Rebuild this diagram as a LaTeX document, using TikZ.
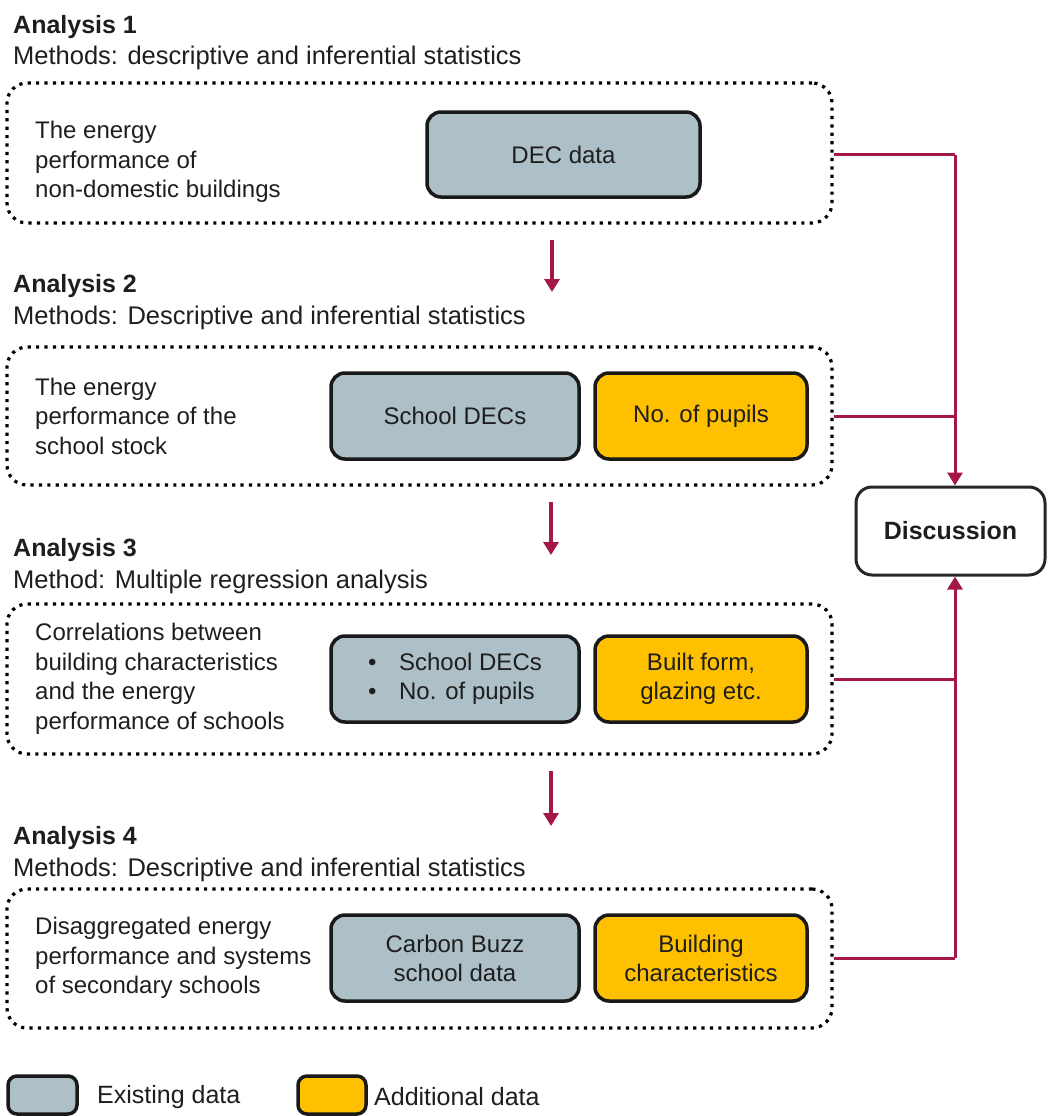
\documentclass[tikz,border=0pt]{standalone}
\usepackage{fontspec}
\setmainfont{Liberation Sans}
\usetikzlibrary{arrows.meta,positioning}
\definecolor{existfill}{RGB}{173,192,200}
\definecolor{addfill}{RGB}{255,192,0}
\definecolor{linkred}{RGB}{163,24,72}
\definecolor{inktext}{RGB}{30,30,30}

\begin{document}
\begin{tikzpicture}[x=1pt,y=-1pt,
  every node/.style={text=inktext},
  title/.style={anchor=base west,inner sep=0,font=\fontsize{25}{30}\selectfont\bfseries},
  method/.style={anchor=base west,inner sep=0,font=\fontsize{25.5}{30}\selectfont},
  group/.style={draw=black,line width=3.2pt,dash pattern=on 3.2pt off 5.2pt,rounded corners=20pt,minimum width=825pt},
  desc/.style={anchor=west,align=left,inner sep=0,font=\fontsize{24}{29.5}\selectfont},
  databox/.style={draw=black!90,line width=3.5pt,rounded corners=14pt,align=center,inner sep=0,minimum height=86pt,font=\fontsize{24}{29}\selectfont},
  existing/.style={databox,fill=existfill,minimum width=248pt},
  additional/.style={databox,fill=addfill,minimum width=212pt},
  flow/.style={linkred,line width=3.5pt,-{Triangle[length=13pt,width=15pt]}},
  link/.style={linkred,line width=3pt},
  linkend/.style={link,-{Triangle[length=13pt,width=15pt]}},
]
\useasboundingbox (0,0) rectangle (1048,1116);

% analysis 1
\node[title] (t1) at (13,34) {Analysis 1};
\node[method] (m1) at (13,64) {Methods: descriptive and inferential statistics};
\node[group,minimum height=140pt] (g1) at (419.5,153) {};
\node[desc] (d1) at (35,162) {The energy\\performance of\\non-domestic buildings};
\node[existing,minimum width=273pt,minimum height=85pt] (dec) at (563.5,154.5) {DEC data};

% analysis 2
\node[title] (t2) at (13,292) {Analysis 2};
\node[method] (m2) at (13,324) {Methods: Descriptive and inferential statistics};
\node[group,minimum height=138pt] (g2) at (419.5,416) {};
\node[desc] (d2) at (35,416) {The energy\\performance of the\\school stock};
\node[existing] (sdec) at (455,416) {School DECs};
\node[additional] (pup) at (701,416) {No. of pupils};

% analysis 3
\node[title] (t3) at (13,556) {Analysis 3};
\node[method] (m3) at (13,588) {Method: Multiple regression analysis};
\node[group,minimum height=150pt] (g3) at (419.5,679) {};
\node[desc] (d3) at (35,679) {Correlations between\\building characteristics\\and the energy\\performance of schools};
\node[existing,align=left] (slist) at (455,679) {\makebox[31pt][l]{\textbullet}School DECs\\\makebox[31pt][l]{\textbullet}No. of pupils};
\node[additional] (form) at (701,679) {Built form,\\glazing etc.};

% analysis 4
\node[title] (t4) at (13,844) {Analysis 4};
\node[method] (m4) at (13,876) {Methods: Descriptive and inferential statistics};
\node[group,minimum height=139pt] (g4) at (419.5,958.5) {};
\node[desc] (d4) at (35,958) {Disaggregated energy\\performance and systems\\of secondary schools};
\node[existing] (cbuzz) at (455,958) {Carbon Buzz\\school data};
\node[additional] (bchar) at (701,958) {Building\\characteristics};

% discussion
\node[draw=black!85,line width=3pt,rounded corners=16pt,minimum width=189pt,minimum height=88pt,font=\fontsize{25}{30}\selectfont\bfseries] (disc) at (950.5,531) {Discussion};

% arrows between analyses
\coordinate (a1s) at (552,240);
\coordinate (a1e) at (552,292);
\coordinate (a2s) at (551,502);
\coordinate (a2e) at (551,555);
\coordinate (a3s) at (551,771);
\coordinate (a3e) at (551,826);
\draw[flow] (a1s) -- (a1e);
\draw[flow] (a2s) -- (a2e);
\draw[flow] (a3s) -- (a3e);

% links to discussion
\coordinate (jt) at (955,154.5);
\coordinate (jb) at (955,958);
\draw[link] (g1.east |- dec.east) -- (jt);
\draw[link] (g2.east |- pup.east) -- (jt |- pup.east);
\draw[linkend] (jt) -- (jt |- disc.north);
\draw[link] (g3.east |- form.east) -- (jb |- form.east);
\draw[link] (g4.east |- bchar.east) -- (jb);
\draw[linkend] (jb) -- (jb |- disc.south);

% legend
\node[databox,fill=existfill,minimum width=69pt,minimum height=38pt,rounded corners=9pt] (lgex) at (42.5,1095) {};
\node[anchor=west,inner sep=0,font=\fontsize{25}{30}\selectfont] (lgextxt) at (97,1097) {Existing data};
\node[databox,fill=addfill,minimum width=68pt,minimum height=38pt,rounded corners=9pt] (lgadd) at (332,1095) {};
\node[anchor=west,inner sep=0,font=\fontsize{25}{30}\selectfont] (lgaddtxt) at (374,1097) {Additional data};
\end{tikzpicture}
\end{document}
